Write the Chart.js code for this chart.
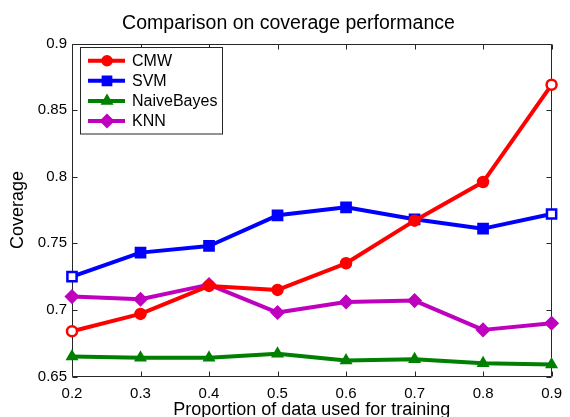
<!DOCTYPE html>
<html><head><meta charset="utf-8">
<script src="https://cdn.jsdelivr.net/npm/chart.js@4/dist/chart.umd.min.js"></script>
<style>html,body{margin:0;padding:0;background:#fff;overflow:hidden}#wrap{width:570px;height:417px}</style>
</head><body><div id="wrap"><canvas id="c" width="570" height="417"></canvas></div>
<script>
const xLabels = ['0.2','0.3','0.4','0.5','0.6','0.7','0.8','0.9'];
const yTicks = [0.65, 0.7, 0.75, 0.8, 0.85, 0.9];
const seriesNames = ['CMW', 'SVM', 'NaiveBayes', 'KNN'];
const cmw = [0.684, 0.697, 0.718, 0.715, 0.735, 0.767, 0.796, 0.869];
const svm = [0.725, 0.743, 0.748, 0.771, 0.777, 0.768, 0.761, 0.772];
const naiveBayes = [0.665, 0.664, 0.664, 0.667, 0.662, 0.663, 0.660, 0.659];
const knn = [0.710, 0.708, 0.719, 0.698, 0.706, 0.707, 0.685, 0.690];
const titleText = 'Comparison on coverage performance';
const xTitle = 'Proportion of data used for training';
const yTitle = 'Coverage';

const FONT = '"Liberation Sans", Arial, Helvetica, sans-serif';
const AXIS = '#262626';
const colors = ['#ff0000', '#0000ff', '#008000', '#bf00bf'];
const styles = ['circle', 'rect', 'triangle', 'rectRot'];
const radii = [5, 6.5, 6, 6.5];
const edgeFill = (c) => xLabels.map((_, i) => (i === 0 || i === xLabels.length - 1) ? '#ffffff' : c);
const seriesData = [cmw, svm, naiveBayes, knn];

const datasets = seriesData.map((d, i) => ({
  label: seriesNames[i],
  data: d,
  borderColor: colors[i],
  backgroundColor: colors[i],
  pointBackgroundColor: i < 2 ? edgeFill(colors[i]) : colors[i],
  pointBorderColor: colors[i],
  pointBorderWidth: i < 2 ? 2.5 : 1.5,
  pointStyle: styles[i],
  pointRadius: radii[i],
  borderWidth: 4,
  borderJoinStyle: 'round',
  tension: 0,
  clip: false
}));

function drawMarker(ctx, style, r, x, y) {
  if (Chart.helpers && Chart.helpers.drawPoint) {
    Chart.helpers.drawPoint(ctx, {pointStyle: style, radius: r, borderWidth: ctx.lineWidth, rotation: 0}, x, y);
    return;
  }
  ctx.beginPath();
  ctx.arc(x, y, r, 0, Math.PI * 2);
  ctx.fill(); ctx.stroke();
}

const framePlugin = {
  id: 'frame',
  beforeDatasetsDraw(chart) {
    const {ctx, chartArea: a, scales: {x, y}} = chart;
    ctx.save();
    ctx.strokeStyle = AXIS;
    ctx.lineWidth = 1;
    const L = Math.round(a.left) + 0.5, R = Math.round(a.right) - 0.5;
    const T = Math.round(a.top) + 0.5, B = Math.round(a.bottom) - 0.5;
    ctx.beginPath();
    ctx.rect(L, T, R - L, B - T);
    const tl = 5;
    xLabels.forEach((_, i) => {
      const px = Math.round(x.getPixelForValue(i)) + 0.5;
      ctx.moveTo(px, B); ctx.lineTo(px, B - tl);
      ctx.moveTo(px, T); ctx.lineTo(px, T + tl);
    });
    yTicks.forEach(v => {
      const py = Math.round(y.getPixelForValue(v)) + 0.5;
      ctx.moveTo(L, py); ctx.lineTo(L + tl, py);
      ctx.moveTo(R, py); ctx.lineTo(R - tl, py);
    });
    ctx.stroke();
    // chart title, centred as in the reference
    ctx.fillStyle = '#000';
    ctx.font = '19.5px ' + FONT;
    ctx.textAlign = 'center';
    ctx.textBaseline = 'alphabetic';
    ctx.fillText(titleText, 288.5, 29);
    ctx.restore();
  }
};

const legendPlugin = {
  id: 'boxLegend',
  afterDatasetsDraw(chart) {
    const ctx = chart.ctx;
    ctx.save();
    ctx.fillStyle = '#ffffff';
    ctx.strokeStyle = AXIS;
    ctx.lineWidth = 1;
    ctx.fillRect(80.5, 47.5, 142, 86.5);
    ctx.strokeRect(80.5, 47.5, 142, 86.5);
    chart.data.datasets.forEach((ds, i) => {
      const yy = 60.7 + i * 20.1;
      ctx.strokeStyle = ds.borderColor;
      ctx.lineWidth = 4;
      ctx.beginPath(); ctx.moveTo(88, yy); ctx.lineTo(125, yy); ctx.stroke();
      ctx.fillStyle = ds.borderColor;
      ctx.lineWidth = 1.5;
      drawMarker(ctx, ds.pointStyle, ds.pointRadius, 107, yy);
      ctx.fillStyle = '#000';
      ctx.font = '16px ' + FONT;
      ctx.textBaseline = 'middle';
      ctx.textAlign = 'left';
      ctx.fillText(ds.label, 132, yy + 0.5);
    });
    ctx.restore();
  }
};

new Chart(document.getElementById('c'), {
  type: 'line',
  data: {labels: xLabels, datasets},
  plugins: [framePlugin, legendPlugin],
  options: {
    responsive: false,
    animation: false,
    devicePixelRatio: 1,
    layout: {padding: {top: 43.5, right: 11.5, bottom: 0, left: 0}},
    plugins: {
      legend: {display: false},
      tooltip: {enabled: false},
      title: {display: false}
    },
    scales: {
      x: {
        type: 'category', offset: false,
        grid: {display: false, drawTicks: false, tickLength: 0},
        border: {display: false},
        ticks: {color: '#000', font: {family: FONT, size: 15}, padding: 8, maxRotation: 0, autoSkip: false},
        title: {display: true, text: xTitle, color: '#000', font: {family: FONT, size: 18, lineHeight: 1}, padding: {top: 0, bottom: -2}},
        afterFit(s) { s.height = 40.5; }
      },
      y: {
        type: 'linear', min: 0.65, max: 0.9,
        grid: {display: false, drawTicks: false, tickLength: 0},
        border: {display: false},
        afterBuildTicks(s) { s.ticks = yTicks.map(v => ({value: v})); },
        ticks: {color: '#000', font: {family: FONT, size: 15}, padding: 5,
          callback: v => String(+Number(v).toFixed(2))},
        title: {display: true, text: yTitle, color: '#000', font: {family: FONT, size: 18, lineHeight: 1.2}, padding: {top: 7, bottom: 0}},
        afterFit(s) { s.width = 72; }
      }
    }
  }
});
</script>
</body></html>
